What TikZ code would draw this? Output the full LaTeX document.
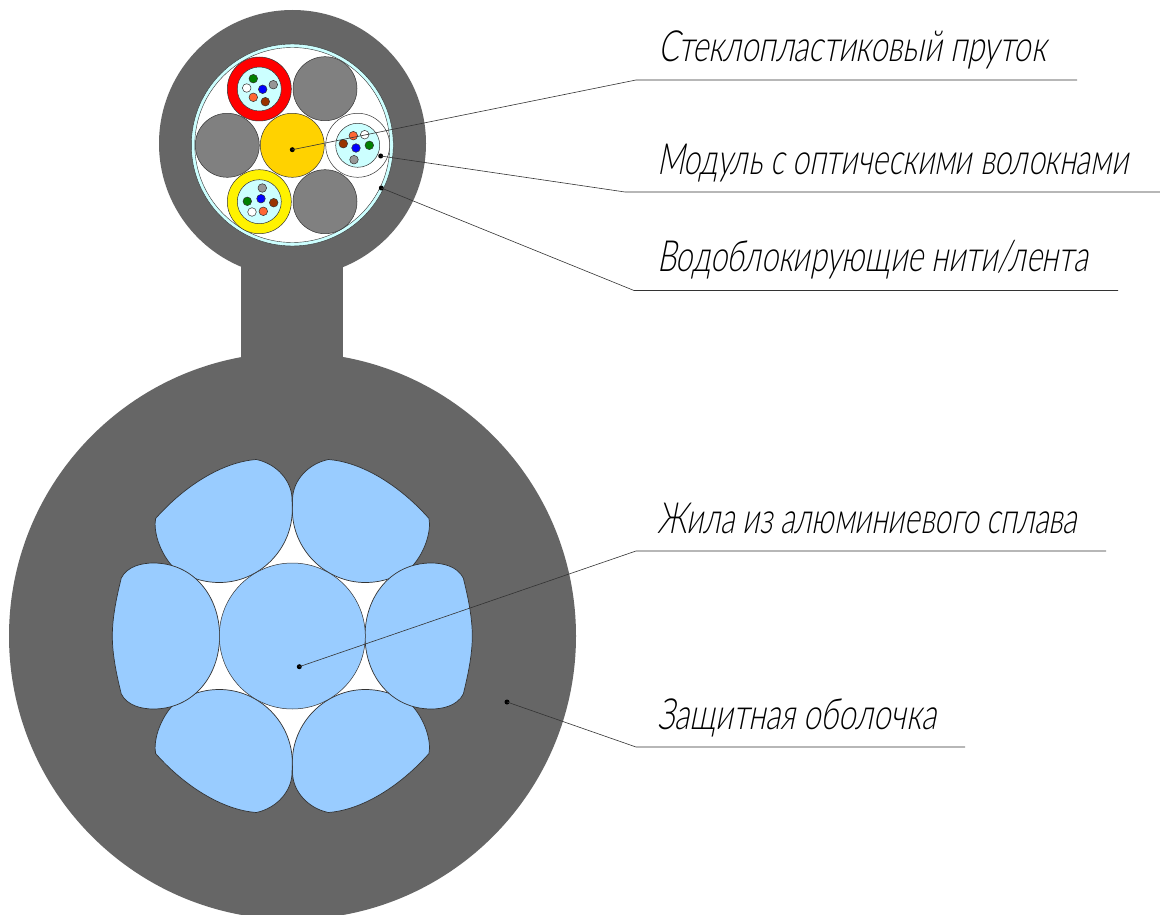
\documentclass[tikz,border=0pt]{standalone}
\usepackage{graphicx}
\usepackage{fontspec}
\IfFontExistsTF{Lato Light}{\newfontfamily\lab[FakeSlant=0.28]{Lato Light}}{%
 \IfFontExistsTF{Fira Sans Light}{\newfontfamily\lab[FakeSlant=0.28]{Fira Sans Light}}{%
  \IfFontExistsTF{Open Sans Light}{\newfontfamily\lab[FakeSlant=0.28]{Open Sans Light}}{%
   \newfontfamily\lab[FakeSlant=0.28]{Liberation Sans}}}}
\definecolor{sheath}{HTML}{666666}
\definecolor{rod}{HTML}{808080}
\definecolor{gelc}{HTML}{CCFFFF}
\definecolor{corec}{HTML}{FFD200}
\definecolor{alu}{HTML}{99CCFF}
\definecolor{edge}{HTML}{333333}
\definecolor{fgreen}{HTML}{008000}
\definecolor{fbrown}{HTML}{993300}
\definecolor{forange}{HTML}{FF6633}
\definecolor{fgray}{HTML}{969696}
\tikzset{
  disc/.style={circle,inner sep=0pt,outer sep=0pt,draw=edge,line width=0.5pt,minimum size=#1},
  rodc/.style={disc=64pt,fill=rod},
  tube/.style={disc=64pt},
  gel/.style={disc=44pt,fill=gelc},
  fibre/.style={disc=8.6pt},
  lobe/.style={fill=alu,draw=edge,line width=0.7pt},
  leader/.style={draw=black!80,line width=0.6pt},
  dotn/.style={circle,fill=black,inner sep=0pt,outer sep=0pt,minimum size=5pt},
  lab/.style={anchor=base west,inner sep=0pt,outer sep=0pt,font=\lab\fontsize{43}{43}\selectfont}
}
\newcommand{\fitw}[2]{\resizebox{#1}{\height}{#2}}
\begin{document}
\begin{tikzpicture}[x=1pt,y=-1pt]
\useasboundingbox (0,0) rectangle (1160,915);
\fill[white] (0,0) rectangle (1160,915);
\begin{scope}
\clip (0,0) rectangle (1160,915);
% sheath
\fill[sheath] (292.5,636) circle[radius=283.5];
\fill[sheath] (292.5,143.5) circle[radius=133.5];
\fill[sheath] (241,260) rectangle (343,365);
% upper cable core
\fill[gelc] (292.3,145) circle[radius=101];
\draw[edge,line width=0.4pt] (292.3,145) circle[radius=101];
\fill[white] (292.3,145) circle[radius=97.5];
\draw[edge,line width=0.4pt] (292.3,145) circle[radius=97.5];
\node[disc=64pt,fill=corec] (core) at (292.3,145.3) {};
\node[rodc] (r1) at (325,88.7) {};
\node[rodc] (r2) at (227.3,145.3) {};
\node[rodc] (r3) at (325,201.7) {};
% red module
\node[tube,fill=red] (mr) at (259.3,89) {};
\node[gel] at (mr) {};
\node[fibre,fill=fgreen] at (253.3,78.7) {};
\node[fibre,fill=white] at (246.7,88) {};
\node[fibre,fill=blue] at (262.7,89.3) {};
\node[fibre,fill=fgray] at (273.3,84.7) {};
\node[fibre,fill=forange] at (253.3,97.3) {};
\node[fibre,fill=fbrown] at (265.3,101.7) {};
% yellow module
\node[tube,fill=yellow] (my) at (259.3,201.7) {};
\node[gel] at (my) {};
\node[fibre,fill=fgray] at (262.3,188) {};
\node[fibre,fill=blue] at (261,198.7) {};
\node[fibre,fill=fgreen] at (247.3,201.3) {};
\node[fibre,fill=fbrown] at (273.7,202.7) {};
\node[fibre,fill=white] at (252,212) {};
\node[fibre,fill=forange] at (263.3,211.3) {};
% white module
\node[tube,fill=white] (mw) at (357.7,145.3) {};
\node[gel] at (mw) {};
\node[fibre,fill=forange] at (353.3,135.7) {};
\node[fibre,fill=white] at (364.7,134.7) {};
\node[fibre,fill=fbrown] at (343.3,143.7) {};
\node[fibre,fill=blue] at (356,148) {};
\node[fibre,fill=fgreen] at (369.3,145.3) {};
\node[fibre,fill=fgray] at (354,159.7) {};
% conductor
\fill[white] (292.3,636) circle[radius=120];
\foreach \sx/\sy in {1/1,-1/1,1/-1,-1/-1}{
  \begin{scope}[shift={(292.3,636)},xscale=\sx,yscale=\sy]
    \path[lobe] (36,-176.5) .. controls (70,-174) and (108,-150) .. (136.7,-117.5)
      .. controls (139,-105) and (133,-85) .. (121,-71)
      .. controls (107.7,-59.5) and (90.6,-53.5) .. (73,-53.5)
      .. controls (33,-53.5) and (0,-86.5) .. (0,-126.5)
      -- (0.3,-138)
      .. controls (1,-155) and (15,-172) .. (36,-176.5) -- cycle;
  \end{scope}
}
\foreach \sx in {1,-1}{
  \begin{scope}[shift={(292.3,636)},xscale=\sx]
    \path[lobe] (72.7,0) .. controls (72.7,-40) and (99,-73) .. (139,-73)
      .. controls (150,-73) and (165,-70) .. (171,-58)
      .. controls (176,-38) and (180,-18) .. (180,0)
      .. controls (180,18) and (176,38) .. (171,58)
      .. controls (165,70) and (150,73) .. (139,73)
      .. controls (99,73) and (72.7,40) .. (72.7,0) -- cycle;
  \end{scope}
}
\node[disc=146pt,fill=alu] (centre) at (292.3,636) {};
\end{scope}
% dots
\node[dotn] (d1) at (292.3,149.7) {};
\node[dotn] (d2) at (380.7,156) {};
\node[dotn] (d3) at (381.3,188) {};
\node[dotn] (d4) at (299.3,666.7) {};
\node[dotn] (d5) at (507,702) {};
% bends and ends
\coordinate (b1) at (636,80);
\coordinate (e1) at (1077,80);
\coordinate (b2) at (625,192);
\coordinate (e2) at (1160,192);
\coordinate (b3) at (634,290.5);
\coordinate (e3) at (1118,290.5);
\coordinate (b4) at (636,551);
\coordinate (e4) at (1106,551);
\coordinate (b5) at (636,747);
\coordinate (e5) at (965,747);
\draw[leader] (d1.center) -- (b1) -- (e1);
\draw[leader] (d2.center) -- (b2) -- (e2);
\draw[leader] (d3.center) -- (b3) -- (e3);
\draw[leader] (d4.center) -- (b4) -- (e4);
\draw[leader] (d5.center) -- (b5) -- (e5);
% labels
\node[lab] (t1) at (658,62) {\fitw{388pt}{Стеклопластиковый пруток}};
\node[lab] (t2) at (657,175) {\fitw{471pt}{Модуль с оптическими волокнами}};
\node[lab] (t3) at (657,271) {\fitw{431pt}{Водоблокирующие нити/лента}};
\node[lab] (t4) at (657,533) {\fitw{420pt}{Жила из алюминиевого сплава}};
\node[lab] (t5) at (657,729) {\fitw{279pt}{Защитная оболочка}};
\end{tikzpicture}
\end{document}
